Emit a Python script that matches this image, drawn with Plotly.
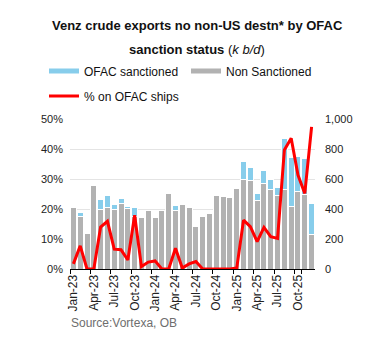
import plotly.graph_objects as go

months = ["Jan-23", "Feb-23", "Mar-23", "Apr-23", "May-23", "Jun-23", "Jul-23", "Aug-23", "Sep-23",
          "Oct-23", "Nov-23", "Dec-23", "Jan-24", "Feb-24", "Mar-24", "Apr-24", "May-24", "Jun-24",
          "Jul-24", "Aug-24", "Sep-24", "Oct-24", "Nov-24", "Dec-24", "Jan-25", "Feb-25", "Mar-25",
          "Apr-25", "May-25", "Jun-25", "Jul-25", "Aug-25", "Sep-25", "Oct-25", "Nov-25", "Dec-25"]

non_sanctioned = [410, 350, 235, 555, 395, 411, 400, 437, 402, 352, 344, 391, 344, 393, 502, 391, 433, 413,
                  285, 349, 367, 487, 485, 475, 540, 596, 587, 460, 567, 533, 491, 527, 418, 518, 498, 231]

ofac_sanctioned = [0, 30, 0, 0, 67, 80, 27, 32, 15, 61, 0, 0, 0, 0, 0, 31, 0, 0,
                   0, 0, 0, 0, 0, 0, 0, 119, 91, 45, 91, 63, 54, 340, 324, 235, 240, 207]

pct_ofac = [1.7, 7.7, 0, 0, 14.0, 15.9, 6.6, 6.4, 3.0, 17.9, 0.8, 2.3, 2.7, 0, 0, 6.9, 0.3, 1.7,
            2.5, 0, 0, 0, 0, 0, 0.3, 16.3, 14.1, 9.1, 13.9, 10.8, 10.2, 39.7, 43.6, 31.3, 25.2, 47.4]

tick_labels = months[::3]

GRAY = "#B2B2B2"
BLUE = "#87CDEB"
RED = "#FF0000"
FONT = "Liberation Sans, Arial, sans-serif"

fig = go.Figure()

fig.add_trace(go.Bar(x=months, y=non_sanctioned, name="Non Sanctioned", marker_color=GRAY,
                     marker_line=dict(color="white", width=1), yaxis="y", showlegend=False))
fig.add_trace(go.Bar(x=months, y=ofac_sanctioned, name="OFAC sanctioned", marker_color=BLUE,
                     marker_line=dict(color="white", width=1), yaxis="y", showlegend=False))
fig.add_trace(go.Scatter(x=months, y=[v / 100 for v in pct_ofac], name="% on OFAC ships", mode="lines",
                         line=dict(color=RED, width=3), yaxis="y2", legend="legend2"))

# legend-only entries drawn as thick lines like the reference
fig.add_trace(go.Scatter(x=[None], y=[None], mode="lines", name="OFAC sanctioned",
                         line=dict(color=BLUE, width=5), legend="legend"))
fig.add_trace(go.Scatter(x=[None], y=[None], mode="lines", name="Non Sanctioned",
                         line=dict(color=GRAY, width=5), legend="legend"))

W, H = 379, 338
ML, MR, MT, MB = 70, 64, 119, 69
PW = W - ML - MR
PH = H - MT - MB


def px_x(px):
    return (px - ML) / PW


def px_y(py):
    return (H - MB - py) / PH


fig.update_layout(
    width=W, height=H,
    margin=dict(l=ML, r=MR, t=MT, b=MB, autoexpand=False),
    paper_bgcolor="white", plot_bgcolor="white",
    font=dict(family=FONT, size=12, color="#111111"),
    barmode="stack", bargap=0.12,
    showlegend=True,
    legend=dict(orientation="h", x=px_x(44), y=px_y(71), xanchor="left", yanchor="middle",
                entrywidth=97, font=dict(size=12, color="#111111"), bgcolor="rgba(0,0,0,0)",
                traceorder="normal"),
    legend2=dict(orientation="h", x=px_x(44), y=px_y(96), xanchor="left", yanchor="middle",
                 font=dict(size=12, color="#111111"), bgcolor="rgba(0,0,0,0)"),
    xaxis=dict(type="category", tickmode="array", tickvals=tick_labels, ticktext=tick_labels,
               tickson="boundaries", tickangle=-90, ticks="outside", ticklen=4, tickcolor="black",
               showline=True, linecolor="black", linewidth=1, showgrid=False,
               tickfont=dict(size=12, color="#222222")),
    yaxis=dict(side="right", range=[0, 1000], dtick=200, tickformat=",", showgrid=True,
               gridcolor="#E4E4E4", gridwidth=1, zeroline=False, showline=False, ticks="",
               ticklabelstandoff=9, tickfont=dict(size=11, color="#222222")),
    yaxis2=dict(side="left", overlaying="y", range=[0, 0.5], dtick=0.1, tickformat=".0%",
                showgrid=False, zeroline=False, showline=False, ticks="",
                ticklabelstandoff=6, tickfont=dict(size=11, color="#222222")),
    annotations=[
        dict(text="<b>Venz crude exports no non-US destn* by OFAC</b>", x=px_x(197), y=px_y(26),
             xref="paper", yref="paper", showarrow=False, xanchor="center", yanchor="middle",
             font=dict(size=13, color="#111111")),
        dict(text="<b>sanction status</b> (<i>k b/d</i>)", x=px_x(197), y=px_y(49),
             xref="paper", yref="paper", showarrow=False, xanchor="center", yanchor="middle",
             font=dict(size=13, color="#111111")),
        dict(text="Source:Vortexa, OB", x=px_x(69), y=px_y(323), xref="paper", yref="paper",
             showarrow=False, xanchor="left", yanchor="middle",
             font=dict(size=12, color="#6E6E6E")),
    ],
)

fig.write_html("out.html")
